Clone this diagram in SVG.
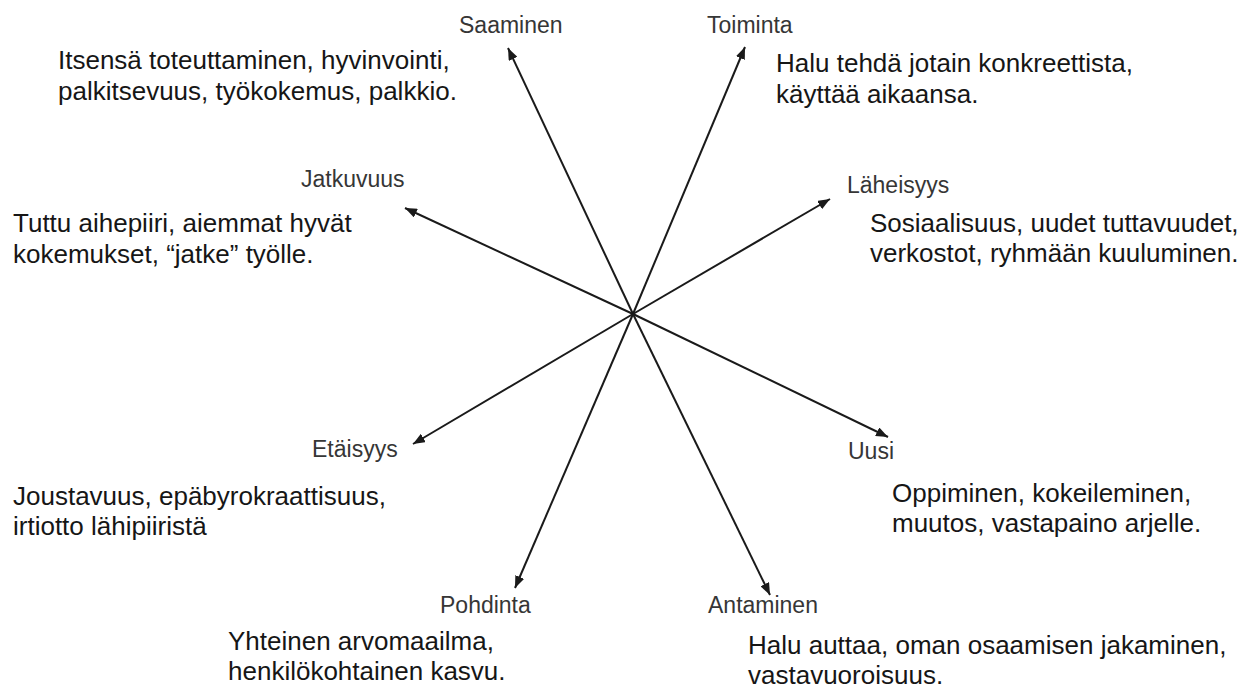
<svg xmlns="http://www.w3.org/2000/svg" width="1253" height="693" viewBox="0 0 1253 693">
  <style>
    .axis { stroke: #1a1a1a; stroke-width: 2; fill: none; marker-end: url(#head); }
    .label { font-family: "Liberation Sans", Arial, sans-serif; font-size: 23px; fill: #363636; }
    .desc { font-family: "Liberation Sans", Arial, sans-serif; font-size: 26px; fill: #161616; }
  </style>
  <defs>
    <marker id="head" viewBox="0 0 10 8" refX="10" refY="4" markerWidth="6" markerHeight="4.8" orient="auto" markerUnits="strokeWidth">
      <path d="M0,0 L10,4 L0,8 Z" fill="#1a1a1a"/>
    </marker>
  </defs>
  <rect width="1253" height="693" fill="#ffffff"/>

  <!-- eight axes radiating from the centre -->
  <g id="connectors">
    <line class="axis" x1="633" y1="314" x2="508" y2="48"/>
    <line class="axis" x1="633" y1="314" x2="745" y2="47"/>
    <line class="axis" x1="633" y1="314" x2="405" y2="208"/>
    <line class="axis" x1="633" y1="314" x2="830" y2="199"/>
    <line class="axis" x1="633" y1="314" x2="413" y2="444"/>
    <line class="axis" x1="633" y1="314" x2="888" y2="437"/>
    <line class="axis" x1="633" y1="314" x2="515" y2="588"/>
    <line class="axis" x1="633" y1="314" x2="770" y2="595"/>
  </g>

  <g id="saaminen">
    <text class="label" x="459" y="33">Saaminen</text>
    <text class="desc" x="58" y="69">Itsensä toteuttaminen, hyvinvointi,</text>
    <text class="desc" x="58" y="100">palkitsevuus, työkokemus, palkkio.</text>
  </g>

  <g id="toiminta">
    <text class="label" x="707" y="33">Toiminta</text>
    <text class="desc" x="776" y="72">Halu tehdä jotain konkreettista,</text>
    <text class="desc" x="776" y="103">käyttää aikaansa.</text>
  </g>

  <g id="jatkuvuus">
    <text class="label" x="301" y="187">Jatkuvuus</text>
    <text class="desc" x="13" y="232">Tuttu aihepiiri, aiemmat hyvät</text>
    <text class="desc" x="13" y="263">kokemukset, “jatke” työlle.</text>
  </g>

  <g id="laheisyys">
    <text class="label" x="847" y="193">Läheisyys</text>
    <text class="desc" x="870" y="232">Sosiaalisuus, uudet tuttavuudet,</text>
    <text class="desc" x="870" y="262">verkostot, ryhmään kuuluminen.</text>
  </g>

  <g id="etaisyys">
    <text class="label" x="312" y="457">Etäisyys</text>
    <text class="desc" x="13" y="505">Joustavuus, epäbyrokraattisuus,</text>
    <text class="desc" x="13" y="535">irtiotto lähipiiristä</text>
  </g>

  <g id="uusi">
    <text class="label" x="848" y="459">Uusi</text>
    <text class="desc" x="892" y="502">Oppiminen, kokeileminen,</text>
    <text class="desc" x="892" y="532">muutos, vastapaino arjelle.</text>
  </g>

  <g id="pohdinta">
    <text class="label" x="440" y="613">Pohdinta</text>
    <text class="desc" x="228" y="650">Yhteinen arvomaailma,</text>
    <text class="desc" x="228" y="680">henkilökohtainen kasvu.</text>
  </g>

  <g id="antaminen">
    <text class="label" x="708" y="613">Antaminen</text>
    <text class="desc" x="748" y="654">Halu auttaa, oman osaamisen jakaminen,</text>
    <text class="desc" x="748" y="684">vastavuoroisuus.</text>
  </g>
</svg>
